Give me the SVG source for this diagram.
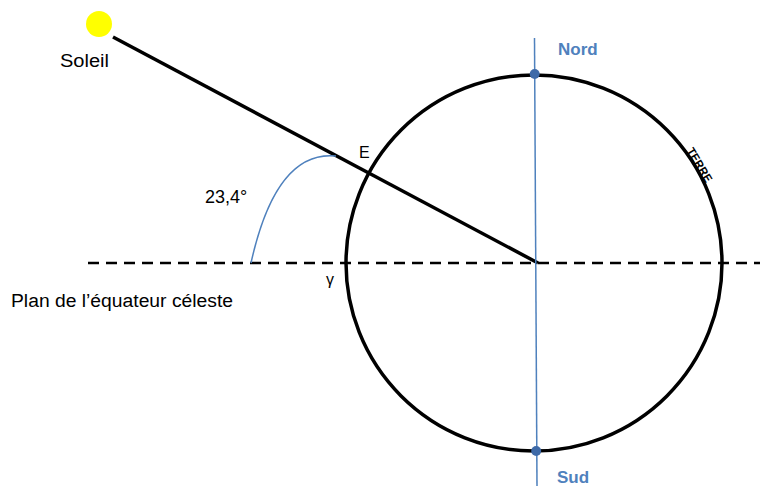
<svg xmlns="http://www.w3.org/2000/svg" width="760" height="486" viewBox="0 0 760 486">
<style>
text{font-family:"Liberation Sans",Arial,sans-serif;fill:#000}
.lbl{font-size:18px}
.blue{fill:#4F81BD;font-weight:bold;font-size:17px}
.axis{stroke:#4F81BD;stroke-width:1.5;fill:none}
.thick{stroke:#000;stroke-width:3.5;fill:none}
</style>
<rect width="760" height="486" fill="#fff"/>
<g id="connectors">
<line x1="88" y1="263" x2="760" y2="263" stroke="#000" stroke-width="2.5" stroke-dasharray="11,7"/>
<line x1="113" y1="37" x2="538" y2="263" class="thick"/>
<path d="M251,263 Q276,150 336,156" class="axis"/>
<line x1="534.5" y1="38" x2="537" y2="486" class="axis"/>
</g>
<g id="terre">
<circle cx="534" cy="263" r="188" class="thick" stroke-width="3"/>
<text transform="translate(696,167) rotate(59.3)" text-anchor="middle" font-size="12" font-weight="bold" textLength="38" lengthAdjust="spacingAndGlyphs">TERRE</text>
</g>
<g id="soleil">
<circle cx="99" cy="24" r="13" fill="#FFFF00"/>
<text x="60" y="67" class="lbl" textLength="49" lengthAdjust="spacingAndGlyphs">Soleil</text>
</g>
<g id="nord">
<circle cx="534.7" cy="74" r="5" fill="#3E6AA8"/>
<text x="558" y="55" class="blue">Nord</text>
</g>
<g id="sud">
<circle cx="536.2" cy="451" r="5" fill="#3E6AA8"/>
<text x="557" y="483" class="blue">Sud</text>
</g>
<g id="labels">
<text x="359" y="158" font-size="16">E</text>
<text x="205" y="203" class="lbl">23,4°</text>
<text x="326" y="285" font-size="16">γ</text>
<text x="11" y="307" class="lbl" textLength="222" lengthAdjust="spacingAndGlyphs">Plan de l’équateur céleste</text>
</g>
</svg>
